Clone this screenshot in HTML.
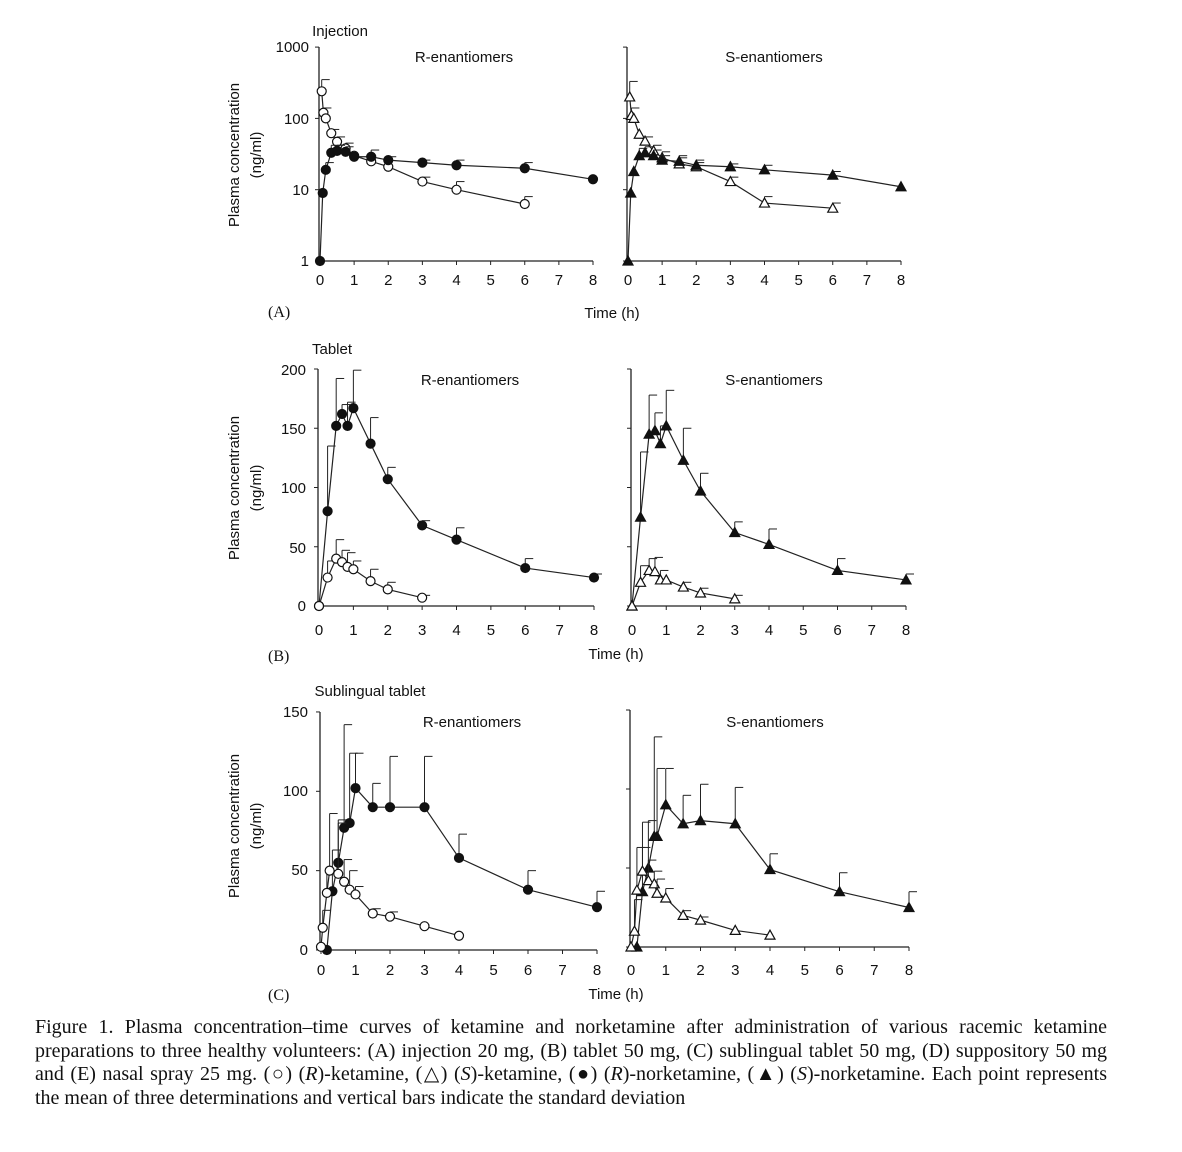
<!DOCTYPE html>
<html><head><meta charset="utf-8"><style>
body{margin:0;background:#fff;width:1182px;height:1152px;overflow:hidden;position:relative}
svg{position:absolute;left:0;top:0}
.cap{position:absolute;left:35px;top:1016px;width:1072px;font-family:"Liberation Serif",serif;font-size:20px;letter-spacing:0;line-height:23.5px;color:#111}
.cap div{text-align:justify;text-align-last:justify;white-space:nowrap}
.cap div.l{text-align-last:left}
</style></head><body>
<svg id="s" width="1182" height="1010" font-family="Liberation Sans, sans-serif" fill="#111">
<g font-size="15" text-anchor="middle">
<text x="340" y="36">Injection</text>
<text x="464" y="62">R-enantiomers</text><text x="774" y="62">S-enantiomers</text>
<text x="332" y="354">Tablet</text>
<text x="470" y="385">R-enantiomers</text><text x="774" y="385">S-enantiomers</text>
<text x="370" y="696">Sublingual tablet</text>
<text x="472" y="727">R-enantiomers</text><text x="775" y="727">S-enantiomers</text>
<text x="612" y="318">Time (h)</text><text x="616" y="659">Time (h)</text><text x="616" y="999">Time (h)</text>
</g>
<g font-family="Liberation Serif, serif" font-size="16"><text x="268" y="317">(A)</text><text x="268" y="661">(B)</text><text x="268" y="1000">(C)</text></g>
<g font-size="15" text-anchor="middle">
<text transform="translate(239,155) rotate(-90)">Plasma concentration</text><text transform="translate(261,155) rotate(-90)">(ng/ml)</text>
<text transform="translate(239,488) rotate(-90)">Plasma concentration</text><text transform="translate(261,488) rotate(-90)">(ng/ml)</text>
<text transform="translate(239,826) rotate(-90)">Plasma concentration</text><text transform="translate(261,826) rotate(-90)">(ng/ml)</text>
</g>
<g font-size="15" text-anchor="end">
<text x="309" y="52">1000</text><text x="309" y="124">100</text><text x="309" y="195">10</text><text x="309" y="266">1</text>
<text x="306" y="375">200</text><text x="306" y="434">150</text><text x="306" y="493">100</text><text x="306" y="553">50</text><text x="306" y="611">0</text>
<text x="308" y="717">150</text><text x="308" y="796">100</text><text x="308" y="875">50</text><text x="308" y="955">0</text>
</g>
<g id="ticks" font-size="15" text-anchor="middle"></g>
</svg>
<div class="cap">
<div>Figure 1. Plasma concentration–time curves of ketamine and norketamine after administration of various racemic ketamine</div>
<div>preparations to three healthy volunteers: (A) injection 20 mg, (B) tablet 50 mg, (C) sublingual tablet 50 mg, (D) suppository 50 mg</div>
<div>and (E) nasal spray 25 mg. (○) (<i>R</i>)-ketamine, (△) (<i>S</i>)-ketamine, (●) (<i>R</i>)-norketamine, (▲) (<i>S</i>)-norketamine. Each point represents</div>
<div class="l">the mean of three determinations and vertical bars indicate the standard deviation</div>
</div>
<script>
const s=document.getElementById('s');let h='';
function P(x0,x8,yf,top,bot,yt){return{x:t=>x0+(x8-x0)*t/8,y:yf,top,bot,x0,x8,yt}}
const lg=v=>261-71.3*Math.log10(v);
const panels=[
 P(320,593,lg,47,261,282),P(628,901,lg,47,261,282),
 P(319,594,v=>606-1.185*v,369,606,632),P(632,906,v=>606-1.185*v,369,606,632),
 P(321,597,v=>950-1.587*v,712,950,972),P(631,909,v=>947-1.58*v,710,947,972)];
const yticksA=[1000,100,10,1],yB=[200,150,100,50,0],yC=[150,100,50,0];
panels.forEach((p,i)=>{
 h+=`<line x1="${p.x0-1}" y1="${p.top}" x2="${p.x0-1}" y2="${p.bot}" stroke="#222" stroke-width="1.3"/>`;
 h+=`<line x1="${p.x0-1}" y1="${p.bot}" x2="${p.x8}" y2="${p.bot}" stroke="#222" stroke-width="1.3"/>`;
 for(let t=0;t<=8;t++){let x=p.x(t);h+=`<line x1="${x}" y1="${p.bot}" x2="${x}" y2="${p.bot+4}" stroke="#222"/>`;}
 const yt=i<2?yticksA:i<4?yB:yC;
 yt.forEach(v=>{let y=p.y(v);h+=`<line x1="${p.x0-5}" y1="${y}" x2="${p.x0-1}" y2="${y}" stroke="#222"/>`});
});
const D=[
 [0,'o',[[0.05,240,350],[0.1,120,140],[0.17,100,0],[0.33,62,70],[0.5,47,55],[0.75,38,45],[1,30,0],[1.5,25,0],[2,21,0],[3,13,15],[4,10,13],[6,6.3,8]]],
 [0,'f',[[0,1,0],[0.08,9,0],[0.17,19,24],[0.33,33,42],[0.5,35,42],[0.75,34,40],[1,29,0],[1.5,29,36],[2,26,29],[3,24,26],[4,22,26],[6,20,24],[8,14,0]]],
 [1,'ot',[[0.05,200,330],[0.1,110,140],[0.17,100,0],[0.33,60,0],[0.5,48,55],[0.75,35,42],[1,28,34],[1.5,23,28],[2,21,24],[3,13,15],[4,6.5,8],[6,5.5,6.5]]],
 [1,'ft',[[0,1,0],[0.08,9,0],[0.17,18,0],[0.33,30,38],[0.5,33,40],[0.75,30,36],[1,26,30],[1.5,25,30],[2,22,26],[3,21,23],[4,19,22],[6,16,18],[8,11,0]]],
 [2,'f',[[0,0,0],[0.25,80,135],[0.5,152,192],[0.67,162,170],[0.83,152,172],[1,167,199],[1.5,137,159],[2,107,117],[3,68,72],[4,56,66],[6,32,40],[8,24,27]]],
 [2,'o',[[0,0,0],[0.25,24,38],[0.5,40,56],[0.67,37,47],[0.83,33,45],[1,31,38],[1.5,21,31],[2,14,20],[3,7,9]]],
 [3,'ft',[[0,0,0],[0.25,75,130],[0.5,145,178],[0.67,148,163],[0.83,137,152],[1,152,182],[1.5,123,150],[2,97,112],[3,62,71],[4,52,65],[6,30,40],[8,22,27]]],
 [3,'ot',[[0,0,0],[0.25,20,34],[0.5,30,40],[0.67,29,41],[0.83,22,30],[1,22,0],[1.5,16,20],[2,11,15],[3,6,9]]],
 [4,'f',[[0.17,0,0],[0.33,37,63],[0.5,55,82],[0.67,77,142],[0.83,80,124],[1,102,124],[1.5,90,105],[2,90,122],[3,90,122],[4,58,73],[6,38,50],[8,27,37]]],
 [4,'o',[[0,2,0],[0.05,14,25],[0.17,36,50],[0.25,50,86],[0.5,48,80],[0.67,43,57],[0.83,38,50],[1,35,40],[1.5,23,26],[2,21,24],[3,15,0],[4,9,0]]],
 [5,'ft',[[0.17,0,0],[0.33,35,63],[0.5,50,80],[0.67,70,133],[0.75,70,113],[1,90,113],[1.5,78,96],[2,80,103],[3,78,101],[4,49,59],[6,35,47],[8,25,35]]],
 [5,'ot',[[0,0,0],[0.1,10,30],[0.17,36,63],[0.33,48,79],[0.5,42,55],[0.67,40,48],[0.75,34,43],[1,31,37],[1.5,20,23],[2,17,19],[3,10.5,0],[4,7.5,0]]]];
D.forEach(([pi,m,pts])=>{const p=panels[pi];
 h+=`<polyline fill="none" stroke="#222" stroke-width="1.2" points="${pts.map(d=>p.x(d[0])+','+p.y(d[1])).join(' ')}"/>`;
 pts.forEach(d=>{const x=p.x(d[0]),y=p.y(d[1]);
  if(d[2]){const e=p.y(d[2]);h+=`<line x1="${x}" y1="${y}" x2="${x}" y2="${e}" stroke="#222"/><line x1="${x}" y1="${e}" x2="${x+8}" y2="${e}" stroke="#222"/>`;}
  const f=m[0]=='f'?'#111':'#fff';
  if(m.length==1)h+=`<circle cx="${x}" cy="${y}" r="4.5" fill="${f}" stroke="#111" stroke-width="1.2"/>`;
  else h+=`<polygon points="${x},${y-5} ${x+5},${y+4} ${x-5},${y+4}" fill="${f}" stroke="#111" stroke-width="1.2"/>`;
 });
});
let tk='';panels.forEach(p=>{for(let t=0;t<=8;t++)tk+=`<text x="${p.x(t)}" y="${p.yt+3}">${t}</text>`});
s.insertAdjacentHTML('beforeend',h);document.getElementById('ticks').innerHTML=tk;
</script>
</body></html>
